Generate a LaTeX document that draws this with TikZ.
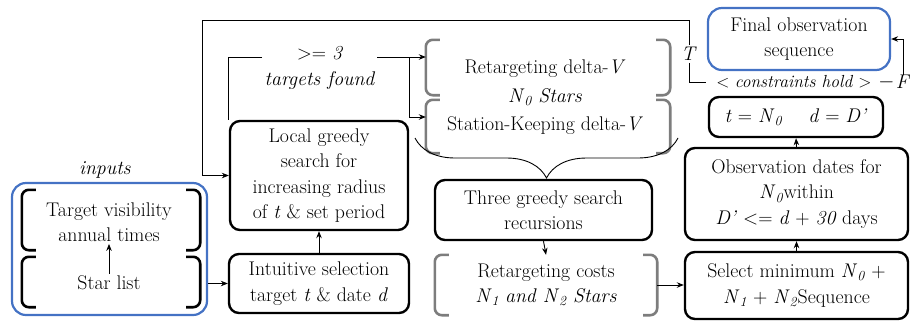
\documentclass[tikz,border=0pt]{standalone}
\usetikzlibrary{arrows.meta,decorations.pathreplacing}
\definecolor{myblue}{RGB}{68,114,196}
\definecolor{mygray}{RGB}{125,125,125}
\newcommand\fsz{\fontsize{19.8}{25.5}\selectfont}
\newcommand\Nsub[1]{\textit{N}\textsubscript{\textit{#1}}}
\newcommand\drawbrk[2]{%
  \draw[#2] ([xshift=14pt]#1.north west) -- (#1.north west) -- (#1.south west) -- ([xshift=14pt]#1.south west);
  \draw[#2] ([xshift=-14pt]#1.north east) -- (#1.north east) -- (#1.south east) -- ([xshift=-14pt]#1.south east);}
\begin{document}
\begin{tikzpicture}[x=1pt,y=-1pt,
  every node/.style={font=\fsz, align=center, inner sep=2pt},
  box/.style={draw, line width=2.4pt, rounded corners=10pt, inner sep=0pt},
  bluebox/.style={draw=myblue, line width=2.2pt, rounded corners=14pt, inner sep=0pt},
  brk/.style={line width=2.6pt, rounded corners=7pt},
  gbrk/.style={brk, draw=mygray},
  plain/.style={inner sep=0pt},
  arr/.style={line width=0.9pt, -{Stealth[length=7pt,width=5.5pt]}},
  ln/.style={line width=0.9pt}]
\useasboundingbox (0,0) rectangle (912,322);

% inputs group
\node[plain] (inlabel) at (105,170) {\textit{inputs}};
\node[bluebox, minimum width=195pt, minimum height=132pt] (inputs) at (109.5,249) {};
\node[plain, minimum width=178pt, minimum height=60pt] (visB) at (111,220) {};
\node[plain, minimum width=178pt, minimum height=50pt] (starB) at (111,282) {};
\drawbrk{visB}{brk}
\drawbrk{starB}{brk}
\node (visT) at (109,222) {Target visibility\\annual times};
\node (starT) at (109,283) {Star list};
\draw[arr] (starT.north) -- (visT.south);

% left column
\node[box, minimum width=180pt, minimum height=59pt] (intu) at (319,283.5)
  {Intuitive selection\\target \textit{t} \& date \textit{d}};
\node[box, minimum width=178pt, minimum height=109pt] (local) at (319,175.5)
  {Local greedy\\search for\\increasing radius\\of \textit{t} \& set period};
\draw[arr] (inputs.east |- intu.west) -- (intu.west);
\draw[arr] (intu.north) -- (local.south);

% targets found
\node (found) at (320,68) {>= \textit{3}\\\textit{targets found}};
\coordinate (fl) at (262,57);
\coordinate (fr) at (377,57);
\coordinate (br) at (409,57);

% retargeting group
\node[plain, minimum width=244pt, minimum height=55pt] (retg1) at (548,67.5) {};
\node[plain, minimum width=244pt, minimum height=53pt] (retg2) at (548,126.5) {};
\drawbrk{retg1}{gbrk}
\drawbrk{retg2}{gbrk}
\node (rtext) at (545,97.5) {Retargeting delta-\textit{V}\\[3pt]\Nsub{0} \textit{Stars}\\[3pt]Station-Keeping delta-\textit{V}};
\draw[ln] (fl) -| (local.north west);
\draw[arr] (fr) -- (fr -| retg1.west);
\draw[arr] (br) |- ([yshift=9.5pt]retg2.west);

% brace
\coordinate (bl) at (415,138);
\coordinate (bR) at (678,138);
\draw[line width=0.9pt, decorate, decoration={brace, mirror, amplitude=40pt, aspect=0.5}] (bl) -- (bR);

% middle column
\node[box, minimum width=217pt, minimum height=60pt] (three) at (543.5,210)
  {Three greedy search\\recursions};
\node[plain, minimum width=222pt, minimum height=60pt] (costs) at (546,285)
  {Retargeting costs\\\Nsub{1} \textit{and} \Nsub{2} \textit{Stars}};
\drawbrk{costs}{gbrk}
\draw[arr] (three.south) -- (costs.north);

% right column
\node[box, minimum width=223pt, minimum height=67pt] (select) at (796.5,285.5)
  {Select minimum \Nsub{0} +\\\Nsub{1} + \Nsub{2}Sequence};
\node[box, minimum width=223pt, minimum height=92pt] (obs) at (796.5,194)
  {Observation dates for\\\Nsub{0}within\\\textit{D'} <= \textit{d} + \textit{30} days};
\node[box, minimum width=174pt, minimum height=40pt] (teq) at (796,117)
  {\textit{t} = \Nsub{0}\hspace{1.3em}\textit{d} = \textit{D'}};
\node[bluebox, minimum width=182pt, minimum height=62pt] (final) at (799,39)
  {Final observation\\sequence};
\draw[arr] (costs.east) -- (costs.east -| select.west);
\draw[arr] (select.north) -- (obs.south);
\draw[arr] (obs.north) -- (teq.south);

% constraints / feedback
\node (T) at (689,54) {\textit{T}};
\node[inner sep=0pt, font=\fontsize{17.5}{20}\selectfont] (cons) at (794,82) {$<$ \textit{constraints hold} $>$};
\node[inner sep=0pt] (F) at (903,82) {\textit{F}};
\node[inner sep=1pt, anchor=east] (minus) at (F.west) {$-$};
\coordinate (loopc) at (202,20);
\draw[ln] (T.north) |- (loopc);
\draw[arr] (loopc) |- (local.west);
\draw[ln] (T.south) |- ([xshift=-10pt]cons.west);
\draw[arr] (F.north) |- (final.east);
\end{tikzpicture}
\end{document}
